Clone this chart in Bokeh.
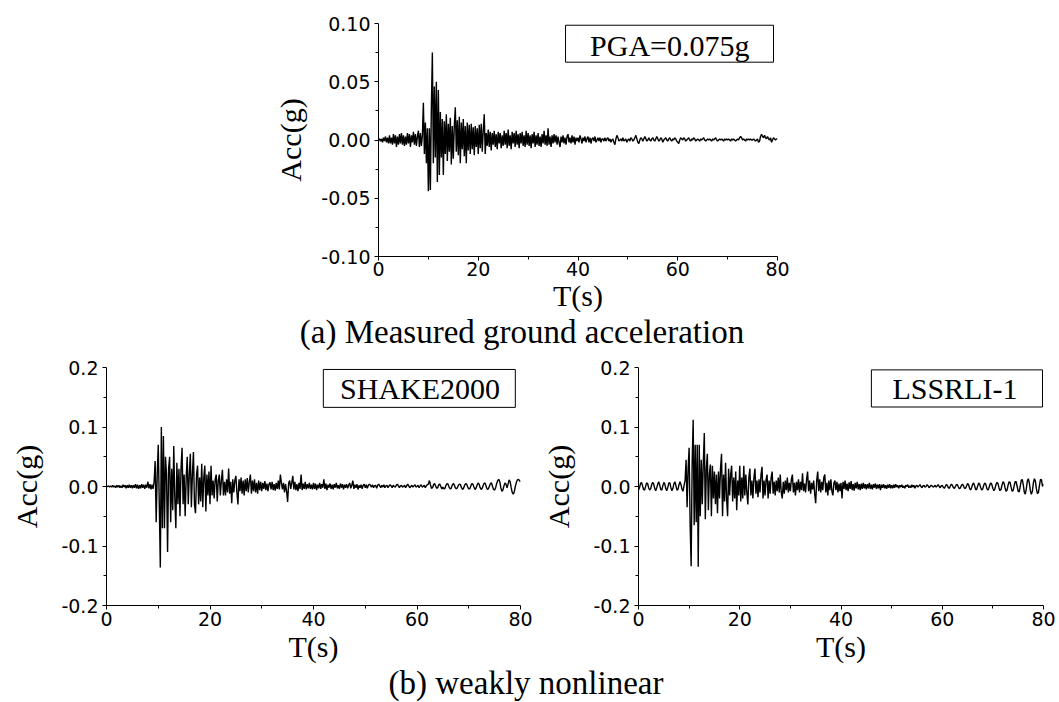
import numpy as np
from bokeh.plotting import figure
from bokeh.models import Range1d, FixedTicker, PrintfTickFormatter, Label, BoxAnnotation, Div
from bokeh.layouts import column, row
from bokeh.embed import file_html
from bokeh.resources import INLINE

# ---------------- data (dt = 0.2 s) ----------------
DT = 0.2
x_ticks = [0, 20, 40, 60, 80]
x_minor = [10, 30, 50, 70]
a_yticks = [-0.10, -0.05, 0.0, 0.05, 0.10]
a_yminor = [-0.075, -0.025, 0.025, 0.075]
b_yticks = [-0.2, -0.1, 0.0, 0.1, 0.2]
b_yminor = [-0.15, -0.05, 0.05, 0.15]

# (a) measured ground acceleration (g)
measured = [
    0.000, 0.001, -0.001, 0.001, -0.002, 0.002, -0.001, 0.003, -0.002, 0.002, -0.003, 0.004, -0.003, 0.002, -0.004, 0.005, -0.003, 0.004, -0.006, 0.003, -0.004, 0.005, -0.003, 0.006, -0.004,
    0.004, -0.005, 0.003, -0.004, 0.006, -0.003, 0.005, -0.006, 0.004, -0.002, 0.007, -0.004, 0.005, -0.005, 0.003, 0.008, -0.006, 0.006, -0.005, 0.004, 0.032, -0.012, 0.015, -0.020, 0.010,
    -0.044, 0.010, -0.043, 0.029, 0.075, -0.020, 0.046, -0.015, 0.050, -0.036, 0.043, -0.030, 0.024, -0.015, 0.018, -0.030, 0.016, -0.012, 0.022, -0.018, 0.014, -0.010, 0.019, -0.021, 0.012,
    -0.016, 0.012, 0.028, -0.010, 0.017, -0.013, 0.020, -0.020, 0.015, -0.008, 0.018, -0.014, 0.012, -0.020, 0.015, -0.009, 0.013, -0.012, 0.014, -0.008, 0.011, -0.013, 0.012, -0.006, 0.010,
    -0.012, 0.013, -0.007, 0.014, -0.010, 0.008, 0.022, -0.012, 0.006, -0.005, 0.009, -0.006, 0.007, -0.009, 0.006, -0.004, 0.008, -0.006, 0.005, -0.008, 0.007, -0.003, 0.006, -0.007, 0.004,
    -0.005, 0.008, -0.004, 0.006, -0.007, 0.009, -0.005, 0.004, -0.008, 0.007, -0.003, 0.006, -0.006, 0.008, -0.004, 0.005, -0.007, 0.006, -0.003, 0.007, -0.005, 0.004, -0.006, 0.008, -0.004,
    0.006, -0.005, 0.004, -0.007, 0.005, -0.003, 0.007, -0.006, 0.004, -0.004, 0.006, -0.005, 0.003, -0.006, 0.005, -0.003, 0.008, -0.004, 0.004, -0.005, 0.010, -0.004, 0.003, -0.006, 0.004,
    -0.003, 0.005, -0.002, 0.004, -0.004, 0.003, -0.002, -0.006, 0.003, -0.002, 0.004, -0.003, 0.002, -0.004, 0.003, 0.005, -0.002, 0.002, -0.003, 0.004, -0.002, 0.003, -0.004, 0.002, -0.001,
    0.002, -0.002, 0.004, 0.001, -0.003, 0.002, -0.001, 0.003, -0.002, 0.001, 0.003, -0.002, 0.002, -0.003, 0.001, 0.002, -0.001, 0.003, -0.002, 0.000, 0.002, -0.001, 0.002, -0.002, 0.001,
    0.001, -0.001, 0.002, -0.001, 0.001, 0.002, -0.001, 0.001, -0.002, 0.000, 0.001, -0.002, -0.004, 0.001, 0.004, 0.002, -0.001, 0.000, 0.001, -0.001, 0.002, -0.001, 0.000, 0.001, -0.002,
    0.000, 0.001, -0.001, 0.002, 0.001, -0.001, 0.000, 0.002, 0.004, 0.001, -0.002, -0.003, 0.000, 0.002, 0.001, -0.001, 0.001, 0.003, 0.001, -0.001, 0.000, 0.002, 0.000, -0.001, 0.001,
    0.002, 0.000, -0.001, 0.001, 0.003, 0.001, -0.001, 0.000, 0.002, 0.001, -0.002, 0.000, 0.001, 0.002, 0.000, -0.001, 0.001, 0.002, 0.000, -0.001, 0.001, 0.000, 0.002, 0.001, -0.001,
    -0.002, -0.003, 0.000, 0.002, 0.001, 0.000, 0.002, 0.001, -0.001, 0.000, 0.001, 0.002, 0.000, -0.001, 0.001, 0.000, 0.002, 0.001, -0.001, 0.000, 0.001, 0.000, -0.001, 0.001, 0.000,
    0.001, 0.002, 0.000, -0.001, 0.000, 0.001, 0.000, 0.001, 0.000, -0.001, 0.001, 0.000, 0.001, 0.002, 0.000, -0.001, 0.000, 0.001, 0.000, 0.001, 0.000, -0.001, 0.001, 0.000, 0.001,
    0.000, 0.001, 0.000, -0.001, 0.001, 0.000, 0.001, 0.000, -0.001, 0.000, 0.001, 0.000, 0.002, 0.003, 0.002, 0.000, 0.001, 0.000, -0.001, 0.001, 0.000, 0.001, 0.000, 0.001, 0.000,
    0.000, 0.001, 0.000, -0.001, 0.000, 0.001, -0.002, -0.001, 0.003, 0.005, 0.003, 0.002, 0.004, 0.002, 0.001, 0.003, 0.001, 0.000, 0.002, -0.002, 0.000, 0.002, 0.001, 0.000, 0.001,
    0.001,
]

# (b) SHAKE2000 surface acceleration (g)
shake2000 = [
    0.000, 0.000, 0.001, -0.001, 0.001, -0.001, 0.002, -0.001, 0.001, -0.002, 0.002, -0.001, 0.002, -0.002, 0.001, -0.002, 0.003, -0.001, 0.002, -0.003, 0.002, -0.002, 0.003, -0.002, 0.002,
    -0.003, 0.002, -0.002, 0.004, -0.003, 0.003, -0.004, 0.002, -0.003, 0.004, -0.002, 0.003, -0.004, 0.003, -0.002, 0.008, -0.003, 0.004, -0.005, 0.003, -0.004, 0.008, 0.043, -0.060, 0.020,
    0.070, -0.030, -0.136, 0.100, -0.070, 0.085, -0.070, 0.050, 0.020, -0.110, 0.030, 0.050, -0.060, 0.030, -0.040, 0.068, -0.020, -0.070, 0.040, -0.030, 0.030, -0.050, 0.030, 0.065, -0.030,
    0.020, -0.050, 0.015, 0.050, -0.030, 0.020, 0.055, -0.035, 0.020, 0.058, -0.030, -0.045, 0.020, 0.035, -0.030, 0.015, -0.025, 0.038, -0.035, 0.015, 0.035, -0.042, 0.020, -0.015, 0.025,
    -0.030, 0.035, -0.015, 0.010, -0.020, 0.012, 0.020, -0.025, 0.010, 0.020, -0.015, 0.010, 0.028, -0.015, 0.008, -0.015, 0.012, -0.010, 0.030, -0.012, 0.008, -0.028, 0.012, -0.010, 0.010,
    0.018, -0.010, -0.030, 0.012, -0.008, 0.015, -0.012, 0.010, -0.015, 0.012, -0.008, 0.014, -0.010, 0.008, 0.020, -0.012, 0.010, -0.008, 0.012, -0.010, 0.006, -0.012, 0.010, -0.006, 0.008,
    -0.008, 0.006, -0.004, 0.009, -0.006, 0.005, -0.008, 0.004, 0.007, -0.005, 0.008, -0.006, 0.004, -0.007, 0.006, -0.004, 0.010, -0.005, 0.020, 0.006, -0.005, 0.006, -0.010, 0.004, -0.008,
    -0.026, 0.006, 0.010, -0.004, 0.006, 0.018, -0.005, 0.008, -0.006, 0.004, -0.008, 0.006, -0.004, 0.020, -0.006, 0.005, -0.004, 0.008, -0.005, 0.004, -0.003, 0.006, -0.004, 0.003, -0.005,
    0.006, -0.004, 0.005, -0.006, 0.003, -0.003, 0.006, -0.004, 0.004, -0.002, 0.012, -0.004, 0.005, -0.006, 0.003, -0.002, 0.005, -0.004, 0.003, -0.005, 0.004, -0.002, 0.006, -0.003, 0.002,
    -0.004, 0.005, -0.002, 0.004, -0.005, 0.003, -0.002, 0.004, -0.003, 0.002, 0.006, -0.003, 0.002, 0.010, -0.004, 0.003, -0.002, 0.004, -0.005, 0.002, -0.002, 0.003, -0.004, 0.002, 0.004,
    -0.002, 0.003, -0.003, 0.002, 0.004, 0.002, -0.001, 0.003, -0.002, 0.001, 0.002, -0.003, 0.002, 0.004, 0.001, -0.002, 0.002, -0.001, 0.003, -0.002, 0.001, 0.002, -0.002, 0.001, 0.003,
    0.001, -0.002, 0.002, 0.000, -0.001, 0.002, 0.004, 0.001, -0.002, 0.001, 0.002, -0.001, 0.000, 0.002, -0.002, 0.001, 0.004, 0.001, -0.002, 0.000, 0.002, -0.001, 0.001, 0.003, -0.001,
    0.000, 0.002, -0.002, 0.001, 0.003, -0.001, 0.000, 0.002, -0.002, 0.001, 0.003, 0.004, 0.010, 0.003, -0.003, -0.002, 0.003, 0.005, 0.001, -0.003, -0.002, 0.003, 0.004, 0.000, -0.004,
    -0.001, -0.004, -0.003, 0.002, 0.005, 0.004, -0.001, -0.004, -0.003, 0.002, 0.005, 0.003, -0.002, -0.004, -0.002, 0.002, 0.004, 0.003, -0.002, -0.005, -0.003, 0.002, 0.005, 0.004, -0.001,
    -0.004, -0.004, 0.001, 0.005, 0.004, -0.001, -0.005, -0.003, 0.002, 0.006, 0.004, -0.002, -0.005, -0.003, 0.002, 0.006, 0.005, -0.001, -0.005, -0.004, 0.001, 0.005, 0.006, 0.000, -0.005,
    -0.006, -0.002, 0.005, 0.010, 0.012, 0.008, -0.002, -0.008, -0.006, 0.001, 0.006, 0.004, -0.002, 0.004, 0.011, 0.008, -0.002, -0.010, -0.013, -0.009, 0.000, 0.007, 0.011, 0.012, 0.010,
    0.008,
]

# (b) LSSRLI-1 surface acceleration (g)
lssrli1 = [
    -0.006, -0.002, 0.005, 0.007, 0.001, -0.005, -0.006, 0.000, 0.006, 0.005, -0.002, -0.006, -0.004, 0.003, 0.007, 0.004, -0.003, -0.007, -0.002, 0.004, 0.008, 0.002, -0.005, -0.006, 0.001,
    0.007, 0.004, -0.004, -0.007, -0.001, 0.006, 0.006, -0.002, -0.007, -0.003, 0.005, 0.008, 0.001, -0.006, -0.005, 0.003, 0.008, 0.003, -0.005, -0.008, 0.002, 0.010, 0.045, -0.035, 0.030,
    0.065, -0.065, -0.134, 0.040, 0.112, -0.065, 0.070, -0.060, 0.070, -0.135, 0.070, -0.050, 0.045, -0.030, 0.040, 0.090, -0.055, 0.030, 0.055, -0.040, 0.020, 0.037, -0.050, 0.035, -0.020,
    0.025, -0.030, 0.020, -0.045, 0.025, -0.020, 0.030, 0.055, -0.050, 0.020, -0.025, 0.040, -0.020, -0.050, 0.030, -0.015, 0.020, 0.035, -0.025, 0.015, -0.020, 0.025, -0.040, 0.010, -0.015,
    0.035, -0.025, 0.015, -0.020, 0.035, -0.015, 0.020, -0.010, -0.030, 0.015, 0.030, -0.015, 0.010, -0.020, 0.015, 0.030, -0.012, 0.010, -0.018, 0.012, -0.010, 0.020, 0.033, -0.020, 0.010,
    -0.015, 0.012, 0.020, -0.020, 0.010, -0.012, 0.015, 0.025, -0.012, 0.008, -0.015, 0.010, -0.008, 0.015, -0.010, 0.020, -0.010, -0.020, 0.008, -0.012, 0.010, -0.006, 0.015, -0.010, 0.006,
    -0.008, 0.012, 0.020, -0.010, 0.006, -0.015, 0.008, -0.006, 0.012, -0.010, 0.008, -0.006, 0.022, -0.008, 0.005, -0.010, 0.012, 0.025, -0.008, 0.010, -0.012, 0.006, -0.005, 0.010, -0.012,
    -0.028, 0.010, 0.025, -0.008, 0.012, -0.010, 0.008, -0.006, 0.015, 0.020, -0.010, 0.006, -0.015, 0.010, -0.006, 0.012, -0.008, -0.015, 0.006, 0.010, -0.006, 0.008, -0.010, 0.005, -0.008,
    0.006, -0.020, 0.008, -0.004, 0.010, -0.006, 0.005, -0.008, 0.007, -0.004, 0.009, -0.006, 0.004, -0.007, 0.006, -0.003, 0.008, -0.005, 0.004, -0.006, 0.005, -0.004, 0.006, -0.003, 0.004,
    -0.005, 0.004, -0.003, 0.006, -0.004, 0.003, -0.005, 0.004, -0.002, 0.005, -0.004, 0.003, -0.003, 0.004, -0.006, 0.003, -0.002, 0.004, -0.003, 0.002, -0.004, 0.003, -0.002, 0.004, -0.003,
    0.002, -0.003, 0.003, -0.002, 0.004, -0.001, 0.002, -0.003, 0.002, -0.001, 0.003, -0.002, 0.001, -0.003, 0.002, 0.000, 0.003, -0.002, 0.001, -0.002, 0.003, -0.001, 0.002, -0.003, 0.001,
    0.002, -0.001, 0.001, 0.003, 0.000, -0.002, 0.001, 0.002, -0.001, 0.000, 0.003, 0.001, -0.002, 0.000, 0.002, 0.001, -0.001, 0.000, 0.002, -0.001, 0.001, 0.003, 0.000, -0.002, 0.001,
    0.002, -0.001, -0.003, 0.000, 0.003, 0.002, -0.002, -0.003, 0.001, 0.004, 0.002, -0.002, -0.003, 0.000, 0.003, 0.003, -0.001, -0.004, -0.002, 0.002, 0.004, 0.001, -0.003, -0.003, 0.001,
    0.005, 0.003, -0.003, -0.006, -0.002, 0.004, 0.006, 0.001, -0.005, -0.005, 0.001, 0.006, 0.004, -0.002, -0.006, -0.004, 0.002, 0.006, 0.004, -0.003, -0.006, -0.003, 0.003, 0.006, 0.003,
    -0.003, -0.007, -0.004, 0.003, 0.007, 0.005, -0.002, -0.007, -0.005, 0.002, 0.008, 0.006, -0.002, -0.008, -0.006, 0.002, 0.008, 0.007, -0.001, -0.008, -0.007, 0.001, 0.008, 0.008, 0.000,
    -0.008, -0.009, 0.000, 0.010, 0.012, 0.003, -0.009, -0.013, -0.004, 0.009, 0.013, 0.006, -0.007, -0.013, -0.008, 0.006, 0.013, 0.009, -0.004, -0.012, -0.010, 0.002, 0.012, 0.011, 0.000,
    0.004,
]

captions = ["(a) Measured ground acceleration", "(b) weakly nonlinear"]
box_texts = ["PGA=0.075g", "SHAKE2000", "LSSRLI-1"]

SERIF = "Liberation Serif"
SANS = "DejaVu Sans"


def times(vals):
    return np.round(np.arange(len(vals)) * DT, 1)


def panel(width, height, left, right, top, bottom, ylim, yticks, yminor, yfmt,
          ylab_standoff, xlab_standoff, xtick_standoff):
    p = figure(width=width, height=height,
               x_range=Range1d(0, 80), y_range=Range1d(-ylim, ylim),
               output_backend="svg", toolbar_location=None,
               min_border_left=left, min_border_right=right,
               min_border_top=top, min_border_bottom=bottom)
    p.outline_line_color = None
    p.xgrid.grid_line_color = None
    p.ygrid.grid_line_color = None
    p.background_fill_color = "white"
    p.border_fill_color = "white"
    p.xaxis.ticker = FixedTicker(ticks=x_ticks, minor_ticks=x_minor)
    p.yaxis.ticker = FixedTicker(ticks=yticks, minor_ticks=yminor)
    p.yaxis.formatter = PrintfTickFormatter(format=yfmt)
    p.xaxis.axis_label = "T(s)"
    p.yaxis.axis_label = "Acc(g)"
    for ax in (p.xaxis[0], p.yaxis[0]):
        ax.axis_line_color = "black"
        ax.axis_line_width = 1
        ax.major_tick_line_color = "black"
        ax.minor_tick_line_color = "black"
        ax.major_tick_in = 0
        ax.major_tick_out = 4
        ax.minor_tick_in = 0
        ax.minor_tick_out = 3
        ax.major_label_text_font = SANS
        ax.major_label_text_font_size = "19px"
        ax.major_label_text_color = "black"
        ax.axis_label_text_font = SERIF
        ax.axis_label_text_font_size = "30px"
        ax.axis_label_text_font_style = "normal"
        ax.axis_label_text_color = "black"
    p.xaxis.major_label_standoff = xtick_standoff
    p.xaxis.axis_label_standoff = xlab_standoff
    p.yaxis.major_label_standoff = 4
    p.yaxis.axis_label_standoff = ylab_standoff
    return p


def add_box(p, left, right, bottom, top, tx, ty, text):
    p.add_layout(BoxAnnotation(left=left, right=right, bottom=bottom, top=top,
                               fill_color=None, fill_alpha=0,
                               line_color="black", line_alpha=1.0, line_width=1))
    p.add_layout(Label(x=tx, y=ty, text=text, text_align="center",
                       text_baseline="alphabetic", text_font=SERIF,
                       text_font_size="30px", text_color="black"))


def caption_div(text, width, height):
    html = ('<div style="font-family:\'Liberation Serif\',serif;font-size:33px;'
            'color:black;text-align:center;white-space:nowrap;'
            'width:%dpx;height:%dpx;line-height:%dpx;margin:0;padding:0;">%s</div>'
            % (width, height, height, text))
    return Div(text=html, width=1059, height=height, margin=0)


# ---- (a) measured ----
pa = panel(1059, 314, 378, 282, 23, 58, 0.1, a_yticks, a_yminor, "%.2f", 11, 0, 1)
pa.line(times(measured), measured, line_color="black", line_width=1.4)
add_box(pa, 37.5, 79.2, 0.0668, 0.0985, 58.4, 0.0814, box_texts[0])

cap_a = caption_div(captions[0], 1044, 37)

# ---- (b) SHAKE2000 ----
pb1 = panel(534, 314, 106, 14, 16, 59, 0.2, b_yticks, b_yminor, "%.1f", 15, 1, 2)
pb1.line(times(shake2000), shake2000, line_color="black", line_width=1.4)
add_box(pb1, 41.9, 79.0, 0.133, 0.1967, 60.6, 0.1643, box_texts[1])

# ---- (b) LSSRLI-1 ----
pb2 = panel(525, 314, 104, 16, 14, 59, 0.2, b_yticks, b_yminor, "%.1f", 15, 1, 2)
pb2.line(times(lssrli1), lssrli1, line_color="black", line_width=1.4)
add_box(pb2, 46.0, 79.8, 0.1336, 0.196, 62.5, 0.1640, box_texts[2])

cap_b = caption_div(captions[1], 1052, 37)

layout = column(pa, cap_a, row(pb1, pb2), cap_b)
open("out.html", "w").write(file_html(layout, INLINE))
